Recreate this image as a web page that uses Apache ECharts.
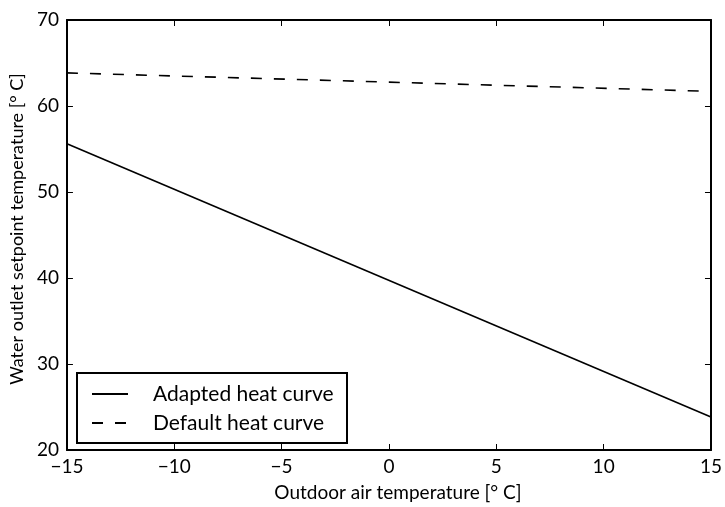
<!DOCTYPE html>
<html><head><meta charset="utf-8">
<script src="https://cdn.jsdelivr.net/npm/echarts@6/dist/echarts.min.js"></script>
<style>html,body{margin:0;padding:0;background:#fff}#c{width:725px;height:507px}</style>
</head><body><div id="c"></div>
<script>
var outdoorTemp = [-15, 15];
var adaptedCurve = [55.6, 23.85];
var defaultCurve = [63.85, 61.7];
var seriesNames = ['Adapted heat curve', 'Default heat curve'];
var xTicks = [-15, -10, -5, 0, 5, 10, 15];
var yTicks = [20, 30, 40, 50, 60, 70];

var FONT = 'Lato, "Open Sans", sans-serif';
var chart = echarts.init(document.getElementById('c'), null, {renderer: 'canvas'});
function fmt(v){ return String(v).replace('-', '\u2212'); }
var tick = {show: true, inside: true, length: 6, lineStyle: {color: '#000', width: 1}};
var line = {show: true, onZero: false, lineStyle: {color: '#000', width: 2}};
var option = {
  backgroundColor: '#fff',
  animation: false,
  grid: {left: 66, right: 8, top: 20, bottom: 53, containLabel: false},
  xAxis: [{
    type: 'value', min: -15, max: 15, interval: 5, position: 'bottom',
    axisLine: line, axisTick: tick, splitLine: {show: false},
    axisLabel: {formatter: fmt, color: '#000', fontSize: 19, fontFamily: FONT, margin: 7},
    name: 'Outdoor air temperature [\u00B0 C]', nameLocation: 'middle', nameGap: 33,
    nameTextStyle: {color: '#000', fontSize: 19, fontFamily: FONT, padding: [0, 0, 0, 18]}
  }, {
    type: 'value', min: -15, max: 15, interval: 5, position: 'top',
    axisLine: line, axisTick: tick, axisLabel: {show: false}, splitLine: {show: false}
  }],
  yAxis: [{
    type: 'value', min: 20, max: 70, interval: 10, position: 'left',
    axisLine: line, axisTick: tick, splitLine: {show: false},
    axisLabel: {color: '#000', fontSize: 19, fontFamily: FONT, margin: 8},
    name: 'Water outlet setpoint temperature [\u00B0 C]', nameLocation: 'middle', nameGap: 40,
    nameTextStyle: {color: '#000', fontSize: 18, fontFamily: FONT, padding: [0, 0, 0, 12]}
  }, {
    type: 'value', min: 20, max: 70, interval: 10, position: 'right',
    axisLine: line, axisTick: tick, axisLabel: {show: false}, splitLine: {show: false}
  }],
  legend: {
    orient: 'vertical', left: 86, top: 377,
    itemWidth: 36, itemHeight: 14, itemGap: 5,
    data: seriesNames,
    itemStyle: {opacity: 0},
    textStyle: {color: '#000', fontSize: 21, fontFamily: FONT, lineHeight: 24, padding: [0, 0, 0, 20]}
  },
  graphic: [{
    type: 'rect', shape: {x: 77, y: 373, width: 270, height: 70},
    style: {fill: 'none', stroke: '#000', lineWidth: 2}, z: 100, silent: true
  }],
  series: [{
    name: seriesNames[0], type: 'line', symbol: 'none',
    data: outdoorTemp.map(function(x, i){ return [x, adaptedCurve[i]]; }),
    lineStyle: {color: '#000', width: 1.6, type: 'solid'}, itemStyle: {color: '#000'}
  }, {
    name: seriesNames[1], type: 'line', symbol: 'none',
    data: outdoorTemp.map(function(x, i){ return [x, defaultCurve[i]]; }),
    lineStyle: {color: '#000', width: 1.6, type: [11, 12]}, itemStyle: {color: '#000'}
  }]
};
chart.setOption(option);
</script></body></html>
